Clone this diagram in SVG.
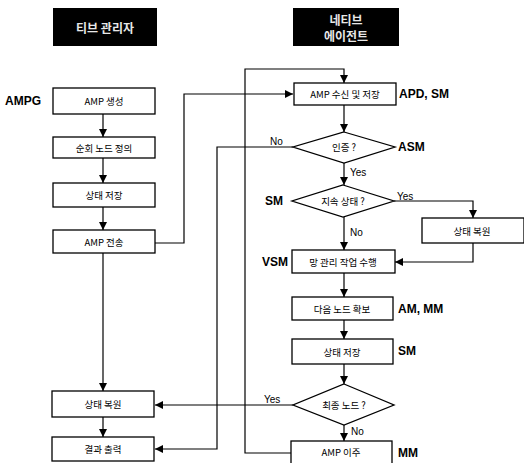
<svg xmlns="http://www.w3.org/2000/svg" width="524" height="463" viewBox="0 0 524 463">
<style>
.box{fill:#fff;stroke:#000;stroke-width:1.3}
.ln{fill:none;stroke:#000;stroke-width:1.2}
.t{font-family:"Noto Sans CJK KR","Liberation Sans",sans-serif;font-size:9.5px;fill:#000;text-anchor:middle;dominant-baseline:central}
.lb{font-family:"Liberation Sans","Noto Sans CJK KR",sans-serif;font-size:12px;font-weight:bold;fill:#000;dominant-baseline:central}
.yn{font-family:"Liberation Sans",sans-serif;font-size:10px;fill:#000;dominant-baseline:central}
.hd{font-family:"Noto Sans CJK KR","Liberation Sans",sans-serif;font-size:12px;font-weight:bold;fill:#e8e8e8;text-anchor:middle;dominant-baseline:central}
</style>
<defs>
<marker id="ah" viewBox="0 0 10 10" refX="10" refY="5" markerWidth="8" markerHeight="8" markerUnits="userSpaceOnUse" orient="auto">
<path d="M0,0 L10,5 L0,10 z" fill="#000"/>
</marker>
</defs>
<rect width="524" height="463" fill="#fff"/>
<g id="header-left"><rect x="53" y="8" width="104" height="38" fill="#000"/><text class="hd" x="105" y="27">티브 관리자</text></g>
<g id="header-right"><rect x="293" y="8" width="106" height="38" fill="#000"/><text class="hd" x="346" y="19">네티브</text><text class="hd" x="346" y="35">에이전트</text></g>

<g id="connectors">
<line class="ln" x1="103" y1="114" x2="103" y2="137" marker-end="url(#ah)"/>
<line class="ln" x1="103" y1="158" x2="103" y2="183" marker-end="url(#ah)"/>
<line class="ln" x1="103" y1="207" x2="103" y2="230" marker-end="url(#ah)"/>
<line class="ln" x1="103" y1="253" x2="103" y2="391" marker-end="url(#ah)"/>
<line class="ln" x1="103" y1="417" x2="103" y2="437" marker-end="url(#ah)"/>
<polyline class="ln" points="155,243 184,243 184,94 293,94" marker-end="url(#ah)"/>
<polyline class="ln" points="291,453 245,453 245,69 344,69 344,83" marker-end="url(#ah)"/>
<line class="ln" x1="344" y1="105" x2="344" y2="132" marker-end="url(#ah)"/>
<line class="ln" x1="344" y1="163" x2="344" y2="185" marker-end="url(#ah)"/>
<polyline class="ln" points="293,147 217,147 217,449 155,449" marker-end="url(#ah)"/>
<line class="ln" x1="344" y1="217" x2="344" y2="250" marker-end="url(#ah)"/>
<polyline class="ln" points="394,201 473,201 473,218" marker-end="url(#ah)"/>
<polyline class="ln" points="473,243 473,262 395,262" marker-end="url(#ah)"/>
<line class="ln" x1="344" y1="273" x2="344" y2="297" marker-end="url(#ah)"/>
<line class="ln" x1="344" y1="320" x2="344" y2="339" marker-end="url(#ah)"/>
<line class="ln" x1="344" y1="364" x2="344" y2="384" marker-end="url(#ah)"/>
<polyline class="ln" points="293,405 155,405" marker-end="url(#ah)"/>
<line class="ln" x1="344" y1="425" x2="344" y2="441" marker-end="url(#ah)"/>
<text class="yn" x="270" y="141">No</text>
<text class="yn" x="350" y="172">Yes</text>
<text class="yn" x="397" y="196">Yes</text>
<text class="yn" x="350" y="232">No</text>
<text class="yn" x="264" y="399">Yes</text>
<text class="yn" x="351" y="431">No</text>
</g>

<g id="amp-gen"><rect class="box" x="53" y="88" width="102" height="26"/><text class="t" x="104" y="101">AMP 생성</text><text class="lb" x="5" y="101">AMPG</text></g>
<g id="route"><rect class="box" x="53" y="137" width="102" height="21"/><text class="t" x="104" y="147.5">순회 노드 정의</text></g>
<g id="save-left"><rect class="box" x="53" y="183" width="102" height="24"/><text class="t" x="104" y="195">상태 저장</text></g>
<g id="amp-send"><rect class="box" x="53" y="230" width="102" height="23"/><text class="t" x="104" y="241.5">AMP 전송</text></g>
<g id="restore-left"><rect class="box" x="52" y="391" width="102" height="26"/><text class="t" x="103" y="404">상태 복원</text></g>
<g id="output"><rect class="box" x="52" y="437" width="102" height="24"/><text class="t" x="103" y="449">결과 출력</text></g>

<g id="amp-recv"><rect class="box" x="294" y="83" width="102" height="22"/><text class="t" x="345" y="94">AMP 수신 및 저장</text><text class="lb" x="399" y="94">APD, SM</text></g>
<g id="auth"><polygon class="box" points="344,132 395,147 344,163 293,147"/><text class="t" x="344" y="147">인증 ?</text><text class="lb" x="398" y="147">ASM</text></g>
<g id="persist"><polygon class="box" points="343,185 394,201 343,217 292,201"/><text class="t" x="343" y="201">지속 상태 ?</text><text class="lb" x="283" y="201" text-anchor="end">SM</text></g>
<g id="restore-right"><rect class="box" x="422" y="218" width="102" height="25"/><text class="t" x="472" y="230.5">상태 복원</text></g>
<g id="task"><rect class="box" x="292" y="250" width="103" height="23"/><text class="t" x="343" y="261.5">망 관리 작업 수행</text><text class="lb" x="288" y="262" text-anchor="end">VSM</text></g>
<g id="next"><rect class="box" x="292" y="297" width="101" height="23"/><text class="t" x="342" y="308.5">다음 노드 확보</text><text class="lb" x="398" y="309">AM, MM</text></g>
<g id="save-right"><rect class="box" x="292" y="339" width="101" height="25"/><text class="t" x="342" y="351.5">상태 저장</text><text class="lb" x="398" y="351">SM</text></g>
<g id="final"><polygon class="box" points="344,384 394,405 344,425 293,405"/><text class="t" x="344" y="405">최종 노드 ?</text></g>
<g id="migrate"><rect class="box" x="291" y="441" width="101" height="26"/><text class="t" x="341" y="452">AMP 이주</text><text class="lb" x="398" y="453">MM</text></g>
</svg>
